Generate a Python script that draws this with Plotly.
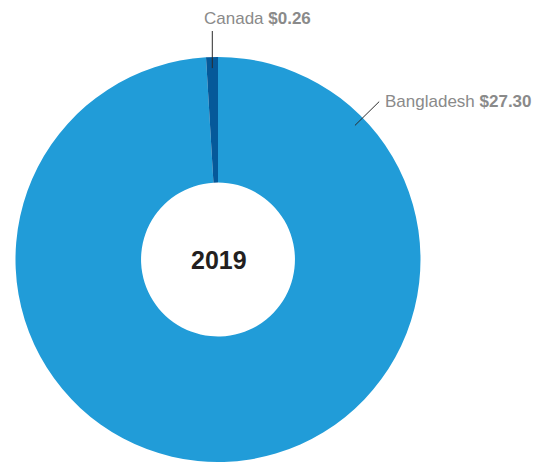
import math
import plotly.graph_objects as go

# ---- data ----
countries = ["Bangladesh", "Canada"]
values = [27.30, 0.26]
colors = ["#219CD8", "#05599A"]
center_label = "2019"

W, H = 545, 462
# pie geometry (pixels)
R = 203
CX, CY = 218, 260          # from top-left
HOLE = 0.38

dom_x = [(CX - R) / W, (CX + R) / W]
dom_y = [0, (H - CY + R) / H]

fig = go.Figure(go.Pie(
    labels=countries, values=values, sort=False, direction="clockwise",
    rotation=0, hole=HOLE, marker=dict(colors=colors, line=dict(width=0)),
    textinfo="none", hoverinfo="label+value", showlegend=False,
    domain=dict(x=dom_x, y=dom_y),
))

def px_to_paper(x, y):
    return x / W, 1 - y / H

total = sum(values)
label_font = dict(family="Liberation Sans, Arial", size=17, color="#8a8a8a")

canada_mid = -(values[countries.index("Canada")] / total) * 180.0
specs = {
    "Canada": dict(angle=canada_mid, r0=192, up_to=31, tx=202, ty=18),
    "Bangladesh": dict(angle=45.5, r0=192, r1=226, tx=383, ty=102),
}

shapes = []
annotations = []
for name, val in zip(countries, values):
    s = specs[name]
    a = math.radians(s["angle"])
    x0 = CX + s["r0"] * math.sin(a)
    y0 = CY - s["r0"] * math.cos(a)
    if name == "Canada":
        x1, y1 = x0, s["up_to"]
    else:
        x1 = CX + s["r1"] * math.sin(a)
        y1 = CY - s["r1"] * math.cos(a)
    p0 = px_to_paper(x0, y0)
    p1 = px_to_paper(x1, y1)
    shapes.append(dict(type="line", xref="paper", yref="paper",
                       x0=p0[0], y0=p0[1], x1=p1[0], y1=p1[1],
                       line=dict(color="#2b2b2b", width=1)))
    tp = px_to_paper(s["tx"], s["ty"])
    annotations.append(dict(xref="paper", yref="paper", x=tp[0], y=tp[1],
                            xanchor="left", yanchor="middle", showarrow=False,
                            text=f"{name} <b>${val:.2f}</b>", font=label_font))

cp = px_to_paper(CX + 1, CY)
annotations.append(dict(xref="paper", yref="paper", x=cp[0], y=cp[1],
                        xanchor="center", yanchor="middle", showarrow=False,
                        text=f"<b>{center_label}</b>",
                        font=dict(family="Liberation Sans, Arial", size=25, color="#231F20")))

fig.update_layout(
    width=W, height=H, margin=dict(l=0, r=0, t=0, b=0),
    paper_bgcolor="white", plot_bgcolor="white",
    shapes=shapes, annotations=annotations,
)

fig.write_html("out.html", config={"displayModeBar": False},
               post_script="document.body.style.margin='0';document.body.style.overflow='hidden';")
